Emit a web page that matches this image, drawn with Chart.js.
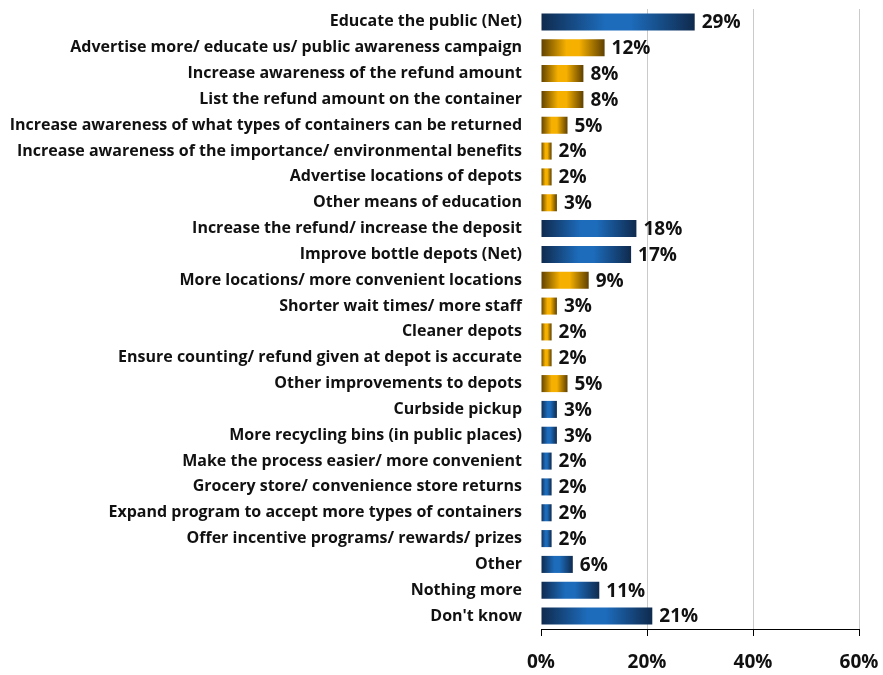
<!DOCTYPE html>
<html>
<head>
<meta charset="utf-8">
<script src="https://cdn.jsdelivr.net/npm/chart.js@4"></script>
<style>
  html, body { margin: 0; padding: 0; background: #fff; }
  #wrap { width: 883px; height: 675px; }
</style>
</head>
<body>
<div id="wrap"><canvas id="chart"></canvas></div>
<script>
const categories = [
  'Educate the public (Net)',
  'Advertise more/ educate us/ public awareness campaign',
  'Increase awareness of the refund amount',
  'List the refund amount on the container',
  'Increase awareness of what types of containers can be returned',
  'Increase awareness of the importance/ environmental benefits',
  'Advertise locations of depots',
  'Other means of education',
  'Increase the refund/ increase the deposit',
  'Improve bottle depots (Net)',
  'More locations/ more convenient locations',
  'Shorter wait times/ more staff',
  'Cleaner depots',
  'Ensure counting/ refund given at depot is accurate',
  'Other improvements to depots',
  'Curbside pickup',
  'More recycling bins (in public places)',
  'Make the process easier/ more convenient',
  'Grocery store/ convenience store returns',
  'Expand program to accept more types of containers',
  'Offer incentive programs/ rewards/ prizes',
  'Other',
  'Nothing more',
  "Don't know"
];
const values = [29, 12, 8, 8, 5, 2, 2, 3, 18, 17, 9, 3, 2, 2, 5, 3, 3, 2, 2, 2, 2, 6, 11, 21];
// true = sub-item (gold), false = net / main item (blue)
const isSubItem = [false, true, true, true, true, true, true, true, false, false, true, true, true, true, true, false, false, false, false, false, false, false, false, false];
const xTicks = [0, 20, 40, 60];

const FONT = '"Open Sans", Lato, sans-serif';

function barFill(c) {
  const chart = c.chart;
  const xs = chart.scales && chart.scales.x;
  const gold = isSubItem[c.dataIndex];
  if (!xs || !chart.chartArea) return gold ? '#e0a000' : '#1a5c9e';
  const x0 = xs.getPixelForValue(0);
  const x1 = xs.getPixelForValue(values[c.dataIndex]);
  if (x1 - x0 < 1) return gold ? '#e0a000' : '#1a5c9e';
  const g = chart.ctx.createLinearGradient(x0, 0, x1, 0);
  if (gold) {
    g.addColorStop(0, '#5e4000');
    g.addColorStop(0.4, '#f6b000');
    g.addColorStop(0.6, '#f6b000');
    g.addColorStop(1, '#5e4000');
  } else {
    g.addColorStop(0, '#0f2a4d');
    g.addColorStop(0.42, '#1d6cbc');
    g.addColorStop(0.58, '#1d6cbc');
    g.addColorStop(1, '#0f2a4d');
  }
  return g;
}

const valueLabels = {
  id: 'valueLabels',
  afterDatasetsDraw(chart) {
    const ctx = chart.ctx;
    const meta = chart.getDatasetMeta(0);
    ctx.save();
    ctx.font = 'bold 19px ' + FONT;
    ctx.fillStyle = '#111';
    ctx.textAlign = 'left';
    ctx.textBaseline = 'middle';
    meta.data.forEach((bar, i) => {
      ctx.fillText(values[i] + '%', bar.x + 7, bar.y + 1);
    });
    ctx.restore();
  }
};

new Chart(document.getElementById('chart'), {
  type: 'bar',
  data: {
    labels: categories,
    datasets: [{
      data: values,
      backgroundColor: barFill,
      borderWidth: 0,
      barPercentage: 0.66,
      categoryPercentage: 1
    }]
  },
  plugins: [valueLabels],
  options: {
    indexAxis: 'y',
    responsive: true,
    maintainAspectRatio: false,
    animation: false,
    layout: { padding: { left: 0, right: 0, top: 9, bottom: 0 } },
    plugins: {
      legend: { display: false },
      tooltip: { enabled: false }
    },
    scales: {
      x: {
        min: 0,
        max: 60,
        afterBuildTicks(scale) {
          scale.ticks = xTicks.map(v => ({ value: v }));
        },
        afterFit(scale) {
          scale.height = 46;
          scale.paddingLeft = 0;
          scale.paddingRight = 24;
        },
        grid: {
          color: (c) => c.tick && c.tick.value === 0 ? 'rgba(0,0,0,0)' : '#cacaca',
          lineWidth: 1,
          tickColor: '#000',
          tickLength: 7,
          drawOnChartArea: true
        },
        border: { display: true, color: '#000', width: 1 },
        ticks: {
          color: '#111',
          font: { family: FONT, size: 19, weight: 'bold' },
          padding: 15,
          maxRotation: 0,
          callback: (v) => v + '%'
        }
      },
      y: {
        afterFit(scale) {
          scale.width = 541;
          scale.paddingTop = 0;
          scale.paddingBottom = 0;
        },
        grid: { display: false },
        border: { display: false },
        ticks: {
          color: '#111',
          font: { family: FONT, size: 16, weight: 'bold' },
          padding: 11,
          autoSkip: false
        }
      }
    }
  }
});
</script>
</body>
</html>
